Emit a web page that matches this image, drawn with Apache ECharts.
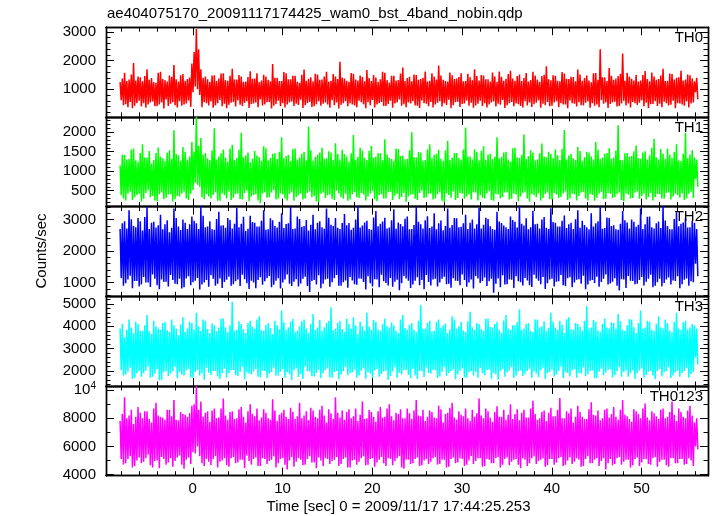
<!DOCTYPE html>
<html><head><meta charset="utf-8">
<script src="https://cdn.jsdelivr.net/npm/echarts@6/dist/echarts.min.js"></script>
<style>html,body{margin:0;padding:0;background:#fff}#c{width:717px;height:516px}</style>
</head><body><div id="c"></div>
<script>
const titleText = 'ae404075170_20091117174425_wam0_bst_4band_nobin.qdp';
const xLabel = 'Time [sec] 0 = 2009/11/17 17:44:25.253';
const yLabel = 'Counts/sec';
const bandNames = ['TH0', 'TH1', 'TH2', 'TH3', 'TH0123'];
const bandColors = ['#ff0000', '#00ff00', '#0000ff', '#00ffff', '#ff00ff'];
const timeStart = -8.1, timeStep = 0.125;

const th0 = [
1250,620,1380,450,1580,480,1290,380,1340,560,1520,340,1920,430,1310,520,1450,600,1420,400,
1280,520,1460,360,1700,470,1330,540,1390,580,1250,410,1230,410,1580,470,1610,540,1360,330,
1320,650,1270,420,1480,500,1440,550,1850,450,1350,370,1270,590,1490,430,1530,470,1300,510,
1360,610,1410,390,1900,900,2300,1100,3100,1000,2400,800,1700,380,1400,550,1450,520,1350,440,
1260,580,1480,360,1490,440,1290,520,1380,630,1550,410,1560,500,1320,340,1300,460,1470,530,
1720,560,1340,400,1340,610,1500,460,1450,420,1260,530,1270,590,1430,350,1630,480,1370,510,
1380,540,1560,380,1250,650,1310,440,1510,470,1450,550,1330,560,1280,330,1880,430,1400,490,
1400,600,1290,410,1290,520,1600,370,1560,470,1350,540,1350,580,1470,420,1470,500,1260,460,
1230,640,1510,350,1690,450,1300,520,1370,560,1420,390,1280,410,1540,480,1520,590,1330,430,
1340,500,1450,540,1610,470,1270,360,1300,620,1530,450,1450,540,1360,330,1960,460,1410,520,
1380,590,1300,410,1260,520,1570,470,1540,440,1340,380,1310,600,1480,550,1430,480,1280,340,
1670,550,1390,450,1290,630,1500,370,1410,470,1260,520,1350,560,1610,420,1580,420,1320,490,
1240,600,1470,360,1470,510,1310,540,1320,650,1550,430,1760,480,1290,380,1390,540,1440,510,
1280,590,1520,440,1500,430,1330,350,1360,610,1400,520,1620,500,1270,410,1300,560,1560,370,
1450,470,1340,530,1830,590,1480,400,1330,520,1290,460,1270,640,1590,340,1490,450,1360,550,
1380,570,1430,390,1560,490,1280,510,1290,610,1540,430,1420,530,1320,360,1700,440,1460,500,
1310,600,1500,420,1480,520,1350,370,1350,470,1270,540,1590,580,1450,400,1260,500,1620,460,
1440,630,1300,350,1370,450,1530,520,1650,560,1380,410,1300,510,1460,480,1520,420,1290,370,
1390,590,1570,440,1270,540,1320,390,1610,480,1480,530,1340,620,1260,360,1460,500,1510,450,
1800,560,1350,410,1320,430,1490,540,1470,590,1300,380,1280,520,1600,470,1550,470,1370,340,
1360,610,1440,520,1430,500,1280,400,1690,550,1520,450,1300,440,1390,530,1480,580,1310,360,
1250,520,1560,430,1570,470,1330,380,2400,630,1420,500,1420,540,1290,350,1740,490,1470,540,
1330,570,1380,400,1460,420,1540,510,2250,600,1300,440,1580,510,1450,370,1370,560,1310,520,
1500,460,1270,530,1310,620,1500,410,1640,530,1360,350,1280,480,1590,490,1450,590,1330,420,
1360,500,1480,380,1720,570,1290,520,1300,440,1550,460,1530,600,1340,340,1400,520,1420,510,
1650,470,1310,430,1340,580,1520,370,1490,510,1380,540,1280,900,1400,650
];
const th1 = [
1150,380,1420,300,1420,250,1300,420,1310,470,1560,260,1580,330,1280,390,1240,420,1470,220,
1690,290,1350,440,1350,510,1520,330,1200,360,1290,250,1470,230,1610,410,1380,450,1330,280,
1260,310,1480,400,1540,400,1310,220,2050,280,1440,360,1410,350,1270,430,1620,470,1500,300,
1300,260,1380,420,1750,520,1500,700,2400,650,1650,600,1850,330,1420,280,1470,410,1330,350,
1290,300,1530,390,2100,460,1300,240,1380,240,1460,430,1560,390,1350,300,1250,480,1580,260,
1680,320,1290,410,1340,430,1550,280,1990,270,1360,440,1410,500,1480,230,1230,350,1320,390,
1520,410,1400,250,1360,180,1270,420,1640,460,1590,320,1280,330,1340,450,1450,520,1460,270,
1310,290,1500,430,1870,400,1330,300,1390,250,1420,410,1260,470,1570,240,1580,340,1300,380,
1350,430,1450,270,1490,300,1280,440,2150,480,1540,330,1270,360,1370,220,1420,210,1480,420,
1600,450,1320,310,1330,380,1510,400,1480,290,1290,260,1720,500,1440,430,1300,340,1550,290,
1440,420,1380,240,1250,270,1460,410,1930,460,1300,330,1370,310,1600,440,1530,400,1340,250,
1290,350,1520,430,1650,490,1350,280,1380,230,1470,390,1460,410,1280,300,1820,300,1430,450,
1340,470,1310,260,1270,370,1580,420,1570,280,1390,340,1400,440,1300,210,1310,350,1540,400,
2000,410,1360,290,1360,260,1490,440,1480,500,1270,310,1290,330,1560,420,1690,420,1330,270,
1420,300,1450,410,1550,460,1310,240,1260,200,1530,430,1780,390,1290,320,1350,480,1470,260,
1470,310,1340,440,1300,420,1560,290,2120,350,1380,400,1380,270,1300,450,1560,450,1500,250,
1280,380,1520,320,1640,300,1290,430,1430,490,1450,260,1310,240,1370,410,1870,410,1330,300,
1370,340,1480,450,1500,460,1300,270,1250,290,1590,420,1600,400,1350,230,1340,350,1420,440,
1940,470,1310,300,1390,220,1540,410,1480,380,1280,330,1300,430,1460,250,1710,310,1380,420,
1360,450,1500,280,1440,270,1330,440,1560,400,1410,310,1290,340,1570,430,2060,480,1300,260,
1400,300,1440,420,1330,410,1290,250,1620,360,1520,450,1270,460,1360,300,1500,250,1480,410,
1380,390,1300,240,1750,320,1550,430,1310,470,1350,280,1450,290,1470,440,1590,420,1320,310,
1350,340,1530,410,2180,450,1290,260,1280,230,1460,430,1470,400,1380,300,1390,310,1510,450,
1660,480,1340,290,1320,360,1480,420,1510,270,1300,340,1400,440,1600,250,1830,330,1360,410,
1300,410,1570,300,1450,290,1310,440,1580,460,1420,270,1340,350,1490,420,1690,380,1280,320,
1260,430,1450,260,1990,300,1330,420,1420,470,1540,310,1350,800,1300,600
];
const th2 = [
2700,1150,2880,900,2950,980,2720,1100,3300,1220,3010,820,2800,1050,2760,1050,3050,880,2950,940,
2650,1180,3080,1000,3400,1000,2700,860,2900,1260,2930,1120,2750,920,2820,790,3150,1100,2690,1020,
2850,1030,2980,880,2600,1240,2740,1080,3350,960,3050,950,2780,1120,2670,810,3000,850,2900,1130,
2700,1200,2850,920,3100,1010,2960,1060,2880,1150,2700,780,3420,940,3120,1000,2760,1080,2780,870,
2950,1230,2690,1120,2680,900,3020,960,3250,1130,2810,830,2820,1020,2740,1090,3050,1190,2990,900,
2720,950,2870,1040,3380,1100,2760,890,2870,1250,3090,1110,2640,980,2710,800,3120,1060,2920,1000,
2900,820,2780,1080,2780,1170,2960,930,3300,1040,2680,1140,2690,1210,3040,850,2980,930,2800,1060,
2750,1140,2930,810,3200,1000,2730,1100,2860,1260,2880,960,3400,890,2700,1030,2720,1110,3100,880,
3020,970,2770,1120,2800,1190,2990,890,2650,700,2840,1050,3150,1080,2690,940,2900,1230,2950,820,
2760,960,2710,1100,3350,1120,3060,870,2840,1010,2800,1140,3050,1240,2740,900,2700,900,2890,1010,
3180,1070,2820,840,2890,1180,2680,1070,2740,950,3000,930,3420,1130,2750,1120,2810,1020,2910,780,
2960,1200,2700,980,2680,880,3070,1110,3270,1100,2790,850,2870,1250,2940,1040,3060,990,2720,910,
2750,1150,2980,870,3330,1030,2710,1090,2910,760,2860,980,2790,1210,3030,1130,3100,1060,2690,830,
2700,940,2830,1060,3400,1170,2930,920,2850,1080,2720,790,2980,1240,3110,1020,2730,910,2780,1100,
3200,1120,2690,880,2880,1000,2970,1120,2660,1190,2800,950,3350,960,2740,840,2830,1140,3050,1060,
3040,1050,2760,920,2770,1260,2880,1080,3150,870,2700,1000,2900,1100,3000,810,2720,1210,2850,1130,
3380,990,2720,1050,2840,1160,3060,890,3020,1040,2790,1120,2700,680,2680,960,3250,1130,2940,850,
2890,1230,2810,940,2760,950,2700,1100,3100,1090,2990,830,2930,1200,2750,1040,3420,1010,2870,910,
2810,1150,3040,1070,2690,920,2760,860,3280,1250,2850,1130,2870,1060,2720,950,3000,1180,3080,800,
2740,980,2700,1100,3360,1120,2920,880,2900,1030,2780,1040,2780,1240,2960,920,3130,890,2730,1140,
2850,1170,2900,850,2700,1000,3010,1090,3300,1110,2740,960,2960,1220,2830,790,2760,940,2690,1060,
3200,1080,2780,990,2880,1190,2950,870,3400,1020,2710,1120,2730,1260,3070,940,3050,970,2800,1030,
2820,1140,2690,900,2680,750,2870,1110,3270,1100,2980,830,2910,1210,2720,1060,3000,1050,2930,950,
2770,960,2840,1080,3350,1180,2700,910,2850,1030,3090,1120,3100,1250,2760,850,2720,900,2880,1010,
2940,1120,2730,880,3420,990,2970,1100,2800,1160,2690,940,2690,1070,3020,1050,3230,1200,2790,820,
2870,950,2910,1090,3050,1130,2750,900,2760,1040,2960,1010,2900,1600,2700,1200
];
const th3 = [
3900,2050,4100,1800,3500,1850,3850,1980,4300,2150,3950,1650,3700,1700,4200,1900,4100,2000,3800,1750,
3800,1900,4050,2020,4500,2200,3780,1700,3650,1750,4250,1880,4000,2100,3900,1600,3850,1600,4150,1950,
4200,2000,3820,1780,3750,1880,4300,1990,4050,2180,3900,1680,3600,1950,4080,1850,4400,1800,3760,2030,
3900,2100,4200,1720,4150,1700,3850,1960,4600,2050,4000,1800,3800,1900,4300,1620,4250,2150,3880,1930,
3700,1820,4120,2010,4050,2000,3790,1760,3950,1650,4350,1900,4350,2120,3950,1700,3750,1900,4050,2040,
5100,2050,3800,1830,3850,1780,4220,1960,4100,2200,3870,1640,3700,1950,4150,1880,4250,1850,3990,1990,
3900,2100,4300,1750,4450,1720,3830,2000,3800,2000,4060,1680,4150,1880,3920,1950,3650,2150,4250,1790,
4050,1800,3870,1970,4700,2080,4180,1700,3850,1950,3950,1860,4200,1600,4320,2030,3750,2120,3810,1740,
4000,1870,4230,1650,4300,2200,3900,1990,3700,1980,4100,1770,4550,1760,3850,1920,3950,2050,4280,1680,
3800,1920,3960,2040,4150,2140,4250,1720,4850,1700,3820,1960,3900,2000,4150,1640,4250,1850,3880,2000,
3750,2180,4340,1810,4100,1900,3900,1950,4400,2060,4050,1700,3650,1800,4200,2020,4000,2130,3800,1660,
4600,1950,3990,1890,3850,1680,4280,2030,4200,2100,3860,1750,3800,1870,4100,1980,4350,2020,4000,1620,
3950,1780,4180,1990,4050,2170,3800,1700,3700,1930,4300,1850,4500,2050,3920,2040,3850,1830,4070,1680,
4150,2110,3850,1800,3750,1650,4250,2000,4950,1990,3900,1740,3900,2150,4150,1920,4250,1880,3780,2050,
3800,2040,4200,1690,4300,1760,3950,1970,4050,2180,4120,1780,3700,1920,3860,2010,4450,2070,4300,1640,
3900,1850,4000,2000,4200,2120,3810,1720,3750,1700,4230,1950,4650,2000,3950,1800,3850,1960,4150,1700,
4100,2140,3880,1900,3800,1820,4340,2040,4350,2060,3970,1660,3950,1900,4100,1860,4200,1620,3830,2000,
3700,2100,4260,1750,4500,1950,3900,2030,3850,2170,4050,1690,4050,1790,4180,1980,4750,2030,3850,1780,
3900,1880,4100,2010,4150,2110,3800,1700,3750,1980,4300,1890,4300,1730,3950,2040,4000,2150,4220,1650,
3800,1910,3930,1960,4600,2060,4200,1760,3950,1840,3850,2010,4250,2190,4080,1690,3700,1950,4310,1920,
4400,1770,3870,2030,3850,2080,4150,1700,4100,1920,3980,1880,3800,2160,4250,1780,4900,1860,3900,2000,
3950,2020,4280,1680,4200,1690,3820,1970,3750,2110,4100,1820,4350,1940,3950,2050,3900,2070,4180,1710,
4150,1810,3900,1990,4550,2180,4230,1750,3850,1960,3800,2020,4050,1750,4320,1900,4300,2040,3960,1650,
3700,1900,4150,2030,4700,2120,3890,1720,3950,1830,4250,1960,4200,2000,3850,1800,3800,1640,4100,2010,
4450,2090,3940,1770,3900,1950,4300,1990,4150,2170,3810,1690,3750,1800,4200,1940,4600,2020,3900,1750,
3850,1920,4180,2000,4250,2140,3870,1700,3950,1870,4100,1960,4050,2600,3900,2300
];
const th0123 = [
7800,5100,8300,4700,9500,4800,8000,5100,8200,5300,8600,4500,7600,4600,8100,5000,8800,5200,8400,4800,
8000,4900,8500,5150,8500,5400,7950,4650,7700,4500,8700,4950,9100,5000,8200,4450,8100,5250,8050,5100,
7900,4700,8600,4850,8600,5150,8150,4550,9300,4950,7900,5200,7850,5350,8450,4700,8300,4400,8250,5050,
8100,5200,8350,4750,8900,5600,9000,5500,10300,6000,8600,5300,9200,4800,8100,4600,8400,5100,8500,4900,
7750,4650,8550,5100,8700,5300,8000,4500,8050,4900,8700,5000,9400,5150,8200,4650,7900,4550,8450,5150,
8500,5250,7950,4800,8000,4850,8650,5050,8800,5050,8100,4450,7700,5350,8500,4950,9000,4700,8300,5100,
8150,5200,8700,4600,7850,4600,8050,5150,8650,5100,8400,4750,8000,4950,7900,5050,9350,5300,8550,4500,
7800,4800,8250,5100,8400,5150,8600,4700,8100,4350,7950,5000,8750,5250,8450,4550,7950,4900,8150,5150,
9100,5050,8000,4650,8200,4700,8500,5100,7850,5300,8750,4850,8550,4850,8100,4450,8000,5200,8600,5000,
8900,4600,8200,5150,7700,5100,8650,4750,8350,4950,7950,5050,9500,5250,8400,4600,8050,4750,8550,5100,
7900,5200,8450,4500,8650,4500,8000,5000,8150,5050,8700,4700,7800,4900,8250,5150,9200,5300,7950,4650,
8000,4700,8600,5100,8450,5150,8100,4550,7750,4850,8500,5050,8800,5250,8050,4800,8100,4600,8700,5150,
9000,5100,8150,4650,7850,4950,8400,5150,8300,5300,8650,4500,8000,4400,8000,5050,8700,5050,8350,4750,
7950,4800,8550,5100,9300,5200,8200,4600,8150,4650,8600,5000,7800,5100,8100,4750,8550,4900,8450,5150,
8050,5250,8000,4700,8900,4750,8650,5050,7700,5050,8300,4500,8400,4550,8750,5100,9100,5200,8050,4800,
7900,4850,8500,5150,8250,5100,8150,4600,8700,4700,8000,5000,7800,5300,8600,4750,8100,4950,8350,5150,
9400,5150,8200,4550,8000,4600,8700,5100,8500,5050,8050,4800,7750,4800,8450,5150,8850,5250,8100,4500,
8100,4700,8600,5100,7900,5200,8250,4650,9000,4900,7950,5050,8300,5100,8650,4700,7850,4450,8400,5150,
8600,5050,8050,4600,8050,4800,8700,5150,9250,5300,8300,4750,7900,4950,8000,5050,8450,5150,8550,4550,
7800,4650,8400,5100,8750,5100,8150,4700,8150,4850,8600,5150,9450,5250,8000,4600,8000,4700,8500,5000,
8350,5200,8700,4750,7700,4900,8100,5150,8900,5050,8450,4550,8100,4600,7950,5100,7950,5300,8650,4800,
9150,4800,8250,5050,8200,5150,8550,4600,7850,4950,8000,5150,8600,4350,8700,4800,8050,5100,8300,4650,
8800,4750,8100,5150,7900,5250,8600,4700,9300,4900,8250,5050,8150,5050,7950,4500,7750,4650,8650,5100,
8500,5200,8300,4600,8000,4850,8700,5100,9050,5100,8050,4750,7850,4700,8500,5150,8350,5250,8150,4550,
7950,4900,8600,5050,8700,5050,8000,4650,8100,4550,8450,5150,9200,5150,8250,4800,7800,4800,8700,5100,
8450,5100,8100,4700,8000,4750,8550,5150,8900,5000,8200,4600,7700,6000,8000,5800
];
const bandValues = [th0, th1, th2, th3, th0123];

const yMin = [40, 90, 565, 1335, 3910];
const yMax = [3165, 2395, 3413, 5339, 10300];
const yMajor = [[1000, 2000, 3000], [500, 1000, 1500, 2000], [1000, 2000, 3000], [2000, 3000, 4000, 5000], [4000, 6000, 8000, 10000]];
const yMinorStep = [200, 100, 200, 200, 1000];
const xMajor = [0, 10, 20, 30, 40, 50];
const xMinorStep = 2;
const xMin = -9.67, xMax = 57.41;

const FONT = '"Liberation Sans", Helvetica, Arial, sans-serif';
const GL = 106, GR = 9, GT = 27.2, GH = 89.7;
const MAJ = 8, MIN = 4.5;

function steps(lo, hi, st) { const a = []; for (let v = Math.ceil(lo / st) * st; v <= hi; v += st) a.push(v); return a; }

const grids = [], xAxes = [], yAxes = [], series = [], graphics = [];
const axisLineStyle = { show: true, onZero: false, lineStyle: { color: '#000', width: 1.4 } };

for (let i = 0; i < 5; i++) {
  grids.push({ left: GL, right: GR, top: GT + i * GH, height: GH, containLabel: false });
  const xMinor = steps(-8, 56, xMinorStep);
  const xi = xAxes.length;
  [['bottom', xMajor, MAJ, i === 4], ['bottom', xMinor, MIN, false], ['top', xMajor, MAJ, false], ['top', xMinor, MIN, false]].forEach(([pos, vals, len, lab]) => {
    xAxes.push({
      type: 'value', gridIndex: i, position: pos, min: xMin, max: xMax,
      axisLine: axisLineStyle, splitLine: { show: false },
      axisTick: { show: true, inside: true, length: len, customValues: vals, lineStyle: { color: '#000', width: 1 } },
      axisLabel: { show: lab, customValues: vals, margin: 6, color: '#000', fontSize: 15, fontFamily: FONT }
    });
  });
  const yMinor = steps(yMin[i], yMax[i], yMinorStep[i]);
  const yi = yAxes.length;
  [['left', yMajor[i], MAJ, true], ['left', yMinor, MIN, false], ['right', yMajor[i], MAJ, false], ['right', yMinor, MIN, false]].forEach(([pos, vals, len, lab]) => {
    yAxes.push({
      type: 'value', gridIndex: i, position: pos, min: yMin[i], max: yMax[i],
      axisLine: axisLineStyle, splitLine: { show: false },
      axisTick: { show: true, inside: true, length: len, customValues: vals, lineStyle: { color: '#000', width: 1 } },
      axisLabel: {
        show: lab, customValues: vals, margin: 10, color: '#000', fontSize: 15, fontFamily: FONT,
        formatter: v => v === 10000 ? '{b|10}{s|4}' : String(v),
        rich: { b: { fontSize: 15, fontFamily: FONT, color: '#000' }, s: { fontSize: 10, fontFamily: FONT, color: '#000', padding: [0, 0, 7, 0] } }
      }
    });
  });
  series.push({
    type: 'line', xAxisIndex: xi, yAxisIndex: yi, showSymbol: false, symbol: 'none',
    sampling: null, animation: false, clip: true, z: 1,
    lineStyle: { color: bandColors[i], width: 1.5 },
    data: bandValues[i].map((v, k) => [timeStart + k * timeStep, v])
  });
  graphics.push({
    type: 'text', x: 703, y: GT + i * GH + 10.5, z: 100,
    style: { text: bandNames[i], align: 'right', textAlign: 'right', verticalAlign: 'middle', textVerticalAlign: 'middle', font: '15px ' + FONT, fill: '#000' }
  });
}
graphics.push({ type: 'text', x: 107, y: 14, style: { text: titleText, align: 'left', verticalAlign: 'middle', textVerticalAlign: 'middle', font: '15px ' + FONT, fill: '#000' } });
graphics.push({ type: 'text', x: 398.5, y: 506.5, style: { text: xLabel, align: 'center', textAlign: 'center', verticalAlign: 'middle', textVerticalAlign: 'middle', font: '15px ' + FONT, fill: '#000' } });
graphics.push({ type: 'text', x: 42, y: 251, rotation: Math.PI / 2, style: { text: yLabel, align: 'center', textAlign: 'center', verticalAlign: 'middle', textVerticalAlign: 'middle', font: '15px ' + FONT, fill: '#000' } });

const chart = echarts.init(document.getElementById('c'), null, { renderer: 'canvas' });
chart.setOption({
  animation: false, backgroundColor: '#fff',
  grid: grids, xAxis: xAxes, yAxis: yAxes, series: series, graphic: graphics
});
</script></body></html>
